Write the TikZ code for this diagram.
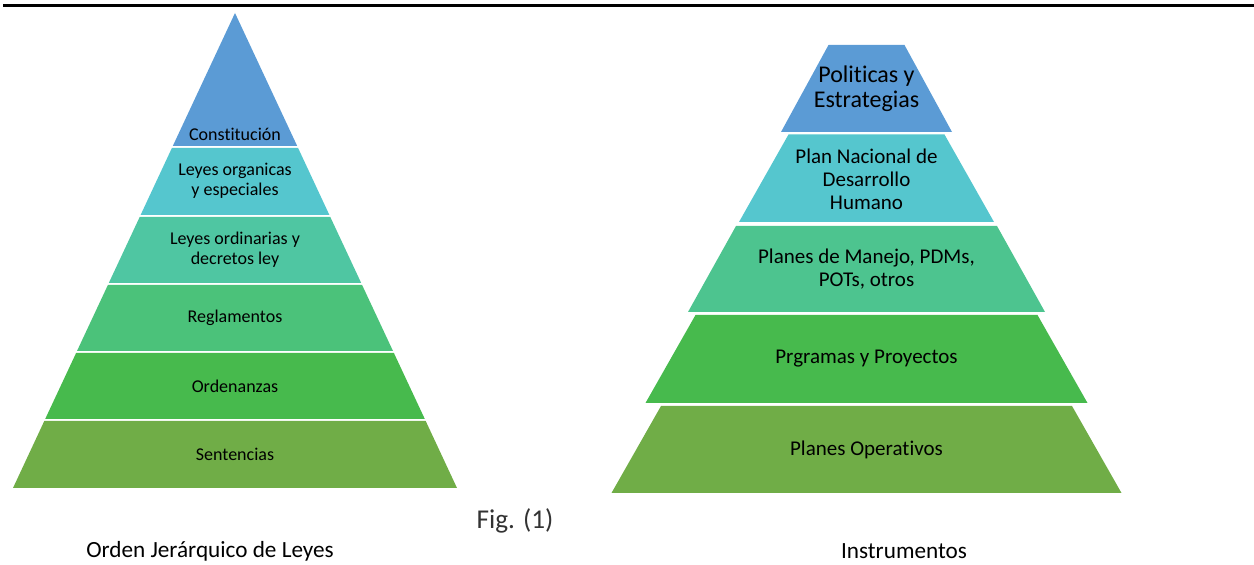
\documentclass[tikz,border=0pt]{standalone}
\usepackage{fontspec}
\setmainfont[Ligatures=NoCommon]{Carlito}

\definecolor{pyrblue}{HTML}{5B9BD5}
\definecolor{pyrcyan}{HTML}{55C6CE}
\definecolor{pyrmint}{HTML}{4FC6A2}
\definecolor{pyrsea}{HTML}{4DC48F}
\definecolor{pyrjade}{HTML}{4BC27A}
\definecolor{pyrgreen}{HTML}{47BA4D}
\definecolor{pyrolive}{HTML}{70AD47}

\tikzset{
  layer/.style={draw=none},
  lawtxt/.style={align=center,font=\fontsize{9}{10}\selectfont,inner sep=0pt},
  insttxt/.style={align=center,font=\fontsize{10.5}{11.6}\selectfont,inner sep=0pt},
  captxt/.style={font=\fontsize{11.6}{13}\selectfont,inner sep=0pt}
}

\begin{document}
\begin{tikzpicture}[x=0.5pt,y=-0.5pt]
\useasboundingbox (0,0) rectangle (1254,565);

%top rule
\draw[line width=1.5pt] (3,6)--(1254,6);

% Orden jerarquico %%%%%%%%%%%%%%%%%%%%%%%%%%%%%%%%%%%%%%%%%%%%%%%%
\fill[layer,pyrblue]  (235,13)--(297.2,146)--(172.8,146)--cycle;
\fill[layer,pyrcyan]  (171.9,148)--(298.1,148)--(329.4,215)--(140.6,215)--cycle;
\fill[layer,pyrmint]  (139.7,217)--(330.3,217)--(361.2,283)--(108.8,283)--cycle;
\fill[layer,pyrjade]  (107.9,285)--(362.1,285)--(393,351)--(77,351)--cycle;
\fill[layer,pyrgreen] (76.1,353)--(393.9,353)--(424.8,419)--(45.2,419)--cycle;
\fill[layer,pyrolive] (44.3,421)--(425.7,421)--(457,488)--(13,488)--cycle;

\node[lawtxt] (const)  at (235,134) {Constitución};
\node[lawtxt] (organ)  at (235,181) {Leyes organicas\\y especiales};
\node[lawtxt] (ordin)  at (235,250) {Leyes ordinarias y\\decretos ley};
\node[lawtxt] (regla)  at (235,318) {Reglamentos};
\node[lawtxt] (orden)  at (235,386) {Ordenanzas};
\node[lawtxt] (senten) at (235,454) {Sentencias};

% Instrumentos %%%%%%%%%%%%%%%%%%%%%%%%%%%%%%%%%%%%%%%%%%%%%%%%%%%%
\fill[layer,pyrblue]  (828.5,45)--(904.5,45)--(952,132)--(781,132)--cycle;
\fill[layer,pyrcyan]  (788.5,134.5)--(944.5,134.5)--(994,222)--(739,222)--cycle;
\fill[layer,pyrsea]   (736,226)--(997,226)--(1045,312)--(688,312)--cycle;
\fill[layer,pyrgreen] (695.5,315)--(1037.5,315)--(1087.5,403)--(645.5,403)--cycle;
\fill[layer,pyrolive] (661,406)--(1072,406)--(1121.5,493)--(611.5,493)--cycle;

\node[insttxt,font=\fontsize{12}{12.6}\selectfont] (polit) at (866.5,89) {Politicas y\\Estrategias};
\node[insttxt] (plan)  at (866.5,179) {Plan Nacional de\\Desarrollo\\Humano};
\node[insttxt] (manej) at (866.5,269) {Planes de Manejo, PDMs,\\POTs, otros};
\node[insttxt] (progr) at (866.5,359) {Prgramas y Proyectos};
\node[insttxt] (operat) at (866.5,450) {Planes Operativos};

%captions
\node[captxt,font=\fontsize{13.6}{15}\selectfont,black!80] (fig) at (515,521) {Fig. (1)};
\node[captxt] (capleft)  at (210,551) {Orden Jerárquico de Leyes};
\node[captxt] (capright) at (904,551) {Instrumentos};

\end{tikzpicture}
\end{document}
